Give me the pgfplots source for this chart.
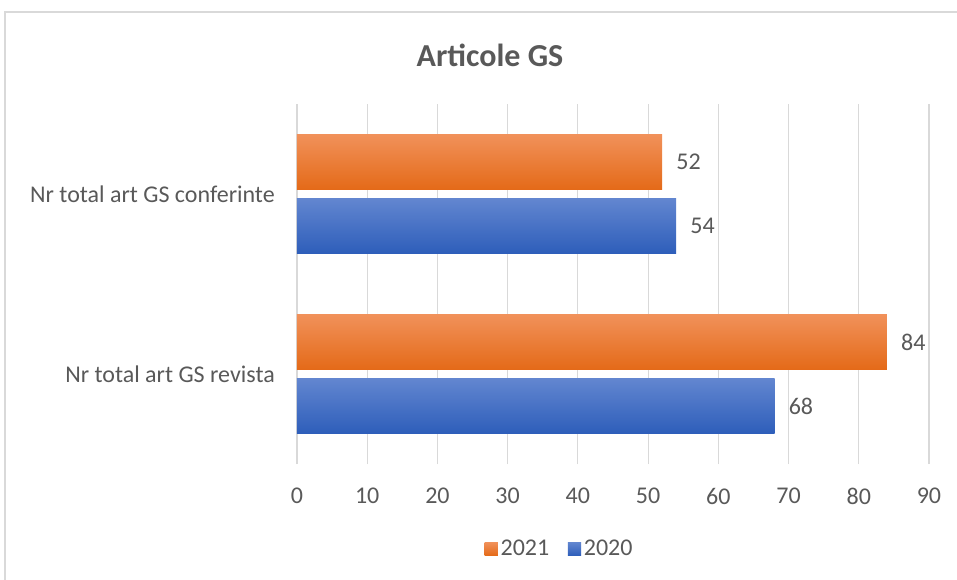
\documentclass[border=0pt]{standalone}
\usepackage{fontspec}
\setmainfont{Carlito}
\usepackage{pgfplots}
\pgfplotsset{compat=1.18}
\definecolor{txtgray}{RGB}{89,89,89}
\definecolor{gridgray}{RGB}{217,217,217}
\definecolor{orangetop}{RGB}{241,145,90}
\definecolor{orangebot}{RGB}{228,106,24}
\definecolor{bluetop}{RGB}{98,134,208}
\definecolor{bluebot}{RGB}{46,94,186}

\begin{document}
\begin{tikzpicture}
\useasboundingbox (-222.75pt,-86.25pt) rectangle (495pt,348pt);
\draw[gridgray, line width=0.8pt] (-219pt,-100pt) -- (-219pt,339pt) -- (500pt,339pt);
\node[font=\fontsize{24}{28}\selectfont\bfseries, text=txtgray] at (144.75pt,306.75pt) {Articole GS};
\begin{axis}[
    at={(0,0)}, anchor=south west,
    scale only axis, width=474pt, height=270pt,
    xbar, bar width=41.25pt,
    xmin=0, xmax=90, ymin=-0.5, ymax=1.5,
    xtick distance=10, ytick={0,1},
    yticklabels={Nr total art GS revista, Nr total art GS conferinte},
    axis line style={draw=none},
    major tick length=0pt,
    xmajorgrids, grid style={gridgray, line width=0.8pt},
    /pgf/number format/assume math mode=true,
    tick label style={font=\fontsize{18}{22}\selectfont, text=txtgray},
    x tick label style={anchor=north, inner sep=0pt, yshift=-18pt},
    y tick label style={anchor=east, inner sep=0pt, xshift=-16.5pt},
    nodes near coords, nodes near coords align=horizontal,
    every node near coord/.append style={anchor=west, inner sep=0pt, xshift=10.5pt,
        font=\fontsize{18}{22}\selectfont, text=txtgray},
    legend style={at={(0.416,-0.236)}, anchor=center, draw=none, legend columns=2,
        font=\fontsize{18}{22}\selectfont, text=txtgray,
        /tikz/every even column/.append style={column sep=12pt}},
    legend image code/.code={\path[#1] (0pt,-5pt) rectangle (10pt,5pt);},
    s2021/.style={draw=none, top color=orangetop, bottom color=orangebot, bar shift=24pt},
    s2020/.style={draw=none, top color=bluetop, bottom color=bluebot, bar shift=-24pt},
]
% 2021
\addplot[s2021, forget plot] coordinates {(84,0)};
\addplot[s2021, forget plot] coordinates {(52,1)};
% 2020
\addplot[s2020, forget plot] coordinates {(68,0)};
\addplot[s2020, forget plot] coordinates {(54,1)};
\addlegendimage{draw=none, top color=orangetop, bottom color=orangebot}
\addlegendentry{2021}
\addlegendimage{draw=none, top color=bluetop, bottom color=bluebot}
\addlegendentry{2020}
\end{axis}
\end{tikzpicture}
\end{document}
